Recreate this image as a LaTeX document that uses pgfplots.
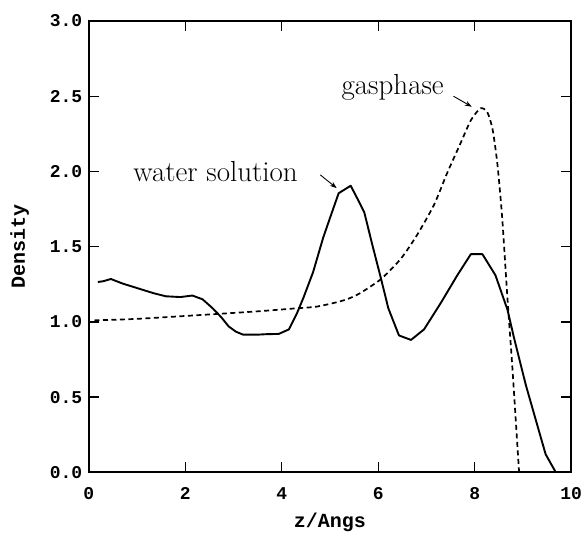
\documentclass[border=0pt]{standalone}
\usepackage{fontspec}
\usepackage{pgfplots}
\pgfplotsset{compat=1.18}
\usetikzlibrary{arrows.meta}
\newfontfamily\monof{Liberation Mono}
\begin{document}
\begin{tikzpicture}
\begin{axis}[
  name=ax,
  scale only axis,
  width=482.5pt, height=451.3pt,
  xmin=0, xmax=10, ymin=0, ymax=3,
  xtick={0,2,4,6,8,10},
  ytick={0,0.5,1,1.5,2,2.5,3},
  yticklabel style={/pgf/number format/fixed,/pgf/number format/fixed zerofill,/pgf/number format/precision=1},
  /pgf/number format/assume math mode=true,
  tick align=inside,
  major tick length=10pt,
  tick style={line width=1.4pt, black},
  axis line style={line width=1.8pt},
  tick label style={font=\fontsize{18}{20}\selectfont\monof\bfseries},
  xticklabel style={anchor=center, yshift=-21pt},
  yticklabel style={anchor=east, xshift=-3pt},
  xlabel={z/Angs},
  ylabel={Density},
  label style={font=\fontsize{20}{22}\selectfont\monof\bfseries},
  xlabel style={at={(axis description cs:0.5,-0.112)}, anchor=center},
  ylabel style={at={(axis description cs:-0.143,0.5)}, anchor=center},
  clip=false,
]
\addplot[black, line width=1.9pt, line join=round] coordinates {
(0.19,1.265) (0.30,1.27) (0.46,1.285) (0.7,1.255) (1.05,1.22) (1.35,1.19)
(1.6,1.17) (1.9,1.165) (2.15,1.175) (2.36,1.15) (2.57,1.09) (2.75,1.03)
(2.9,0.97) (3.05,0.935) (3.2,0.915) (3.5,0.915) (3.67,0.918) (3.94,0.92)
(4.15,0.95) (4.32,1.06) (4.45,1.16) (4.65,1.33) (4.86,1.56) (5.0,1.69)
(5.18,1.855) (5.43,1.905) (5.6,1.80) (5.71,1.73) (5.88,1.51) (6.06,1.285)
(6.21,1.09) (6.43,0.91) (6.68,0.88) (6.95,0.95) (7.3,1.127) (7.64,1.31)
(7.92,1.45) (8.16,1.45) (8.43,1.31) (8.68,1.08) (8.81,0.90) (9.06,0.58)
(9.3,0.31) (9.47,0.12) (9.68,0.0)
};
\addplot[black, line width=1.7pt, smooth, tension=0.4, dash pattern=on 5pt off 3.5pt] coordinates {
(0.12,1.01) (1,1.02) (2.29,1.045) (3.5,1.07) (4.3,1.09) (4.7,1.10) (5.07,1.125)
(5.35,1.15) (5.62,1.19) (6.06,1.285) (6.47,1.42) (6.81,1.58) (7.16,1.78) (7.43,1.99)
(7.71,2.19) (7.92,2.34) (8.12,2.42) (8.26,2.395) (8.37,2.28) (8.47,2.05)
(8.57,1.69) (8.68,1.15) (8.78,0.70) (8.88,0.2) (8.92,0.0)
};
\node[font=\fontsize{29}{34}\selectfont] at (axis cs:2.63,2.0) {water solution};
\node[font=\fontsize{29}{34}\selectfont] at (axis cs:6.30,2.56) {gasphase};
\draw[line width=0.9pt, -{Stealth[length=7pt,width=5pt]}] (axis cs:4.80,1.977) -- (axis cs:5.14,1.889);
\draw[line width=0.9pt, -{Stealth[length=7pt,width=5pt]}] (axis cs:7.56,2.50) -- (axis cs:7.94,2.43);
\end{axis}
\pgfresetboundingbox
\path[use as bounding box] ([shift={(-88.7pt,-61.7pt)}]ax.south west) rectangle ([shift={(14.8pt,21pt)}]ax.north east);
\end{tikzpicture}
\end{document}
